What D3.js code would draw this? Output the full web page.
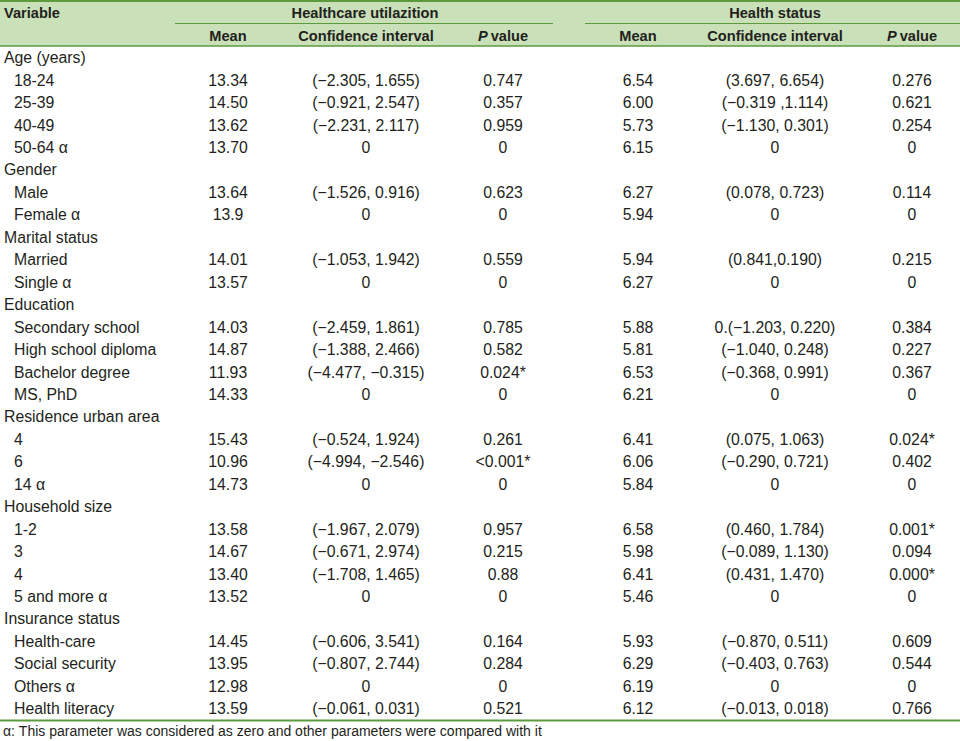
<!DOCTYPE html>
<html>
<head>
<meta charset="utf-8">
<script src="https://cdn.jsdelivr.net/npm/d3@7"></script>
<style>
  body { margin: 0; background: #fff; }
  svg { display: block; }
  text { font-family: "Liberation Sans", Arial, sans-serif; fill: #231f20; }
  .head { font-weight: bold; font-size: 14.6px; }
  .cell { font-size: 15.8px; }
  .note { font-size: 14px; }
</style>
</head>
<body>
<svg id="table" width="960" height="741"></svg>
<script>
// row labels (indent = 1 for sub rows, 0 for group heading)
const labels = [
  ['Age (years)', 0], ['18-24', 1], ['25-39', 1], ['40-49', 1], ['50-64 α', 1],
  ['Gender', 0], ['Male', 1], ['Female α', 1],
  ['Marital status', 0], ['Married', 1], ['Single α', 1],
  ['Education', 0], ['Secondary school', 1], ['High school diploma', 1], ['Bachelor degree', 1], ['MS, PhD', 1],
  ['Residence urban area', 0], ['4', 1], ['6', 1], ['14 α', 1],
  ['Household size', 0], ['1-2', 1], ['3', 1], ['4', 1], ['5 and more α', 1],
  ['Insurance status', 0], ['Health-care', 1], ['Social security', 1], ['Others α', 1], ['Health literacy', 1]
];

// healthcare utilization
const useMean = ['', '13.34', '14.50', '13.62', '13.70', '', '13.64', '13.9', '', '14.01', '13.57',
  '', '14.03', '14.87', '11.93', '14.33', '', '15.43', '10.96', '14.73',
  '', '13.58', '14.67', '13.40', '13.52', '', '14.45', '13.95', '12.98', '13.59'];
const useCI = ['', '(−2.305, 1.655)', '(−0.921, 2.547)', '(−2.231, 2.117)', '0', '', '(−1.526, 0.916)', '0', '', '(−1.053, 1.942)', '0',
  '', '(−2.459, 1.861)', '(−1.388, 2.466)', '(−4.477, −0.315)', '0', '', '(−0.524, 1.924)', '(−4.994, −2.546)', '0',
  '', '(−1.967, 2.079)', '(−0.671, 2.974)', '(−1.708, 1.465)', '0', '', '(−0.606, 3.541)', '(−0.807, 2.744)', '0', '(−0.061, 0.031)'];
const useP = ['', '0.747', '0.357', '0.959', '0', '', '0.623', '0', '', '0.559', '0',
  '', '0.785', '0.582', '0.024*', '0', '', '0.261', '<0.001*', '0',
  '', '0.957', '0.215', '0.88', '0', '', '0.164', '0.284', '0', '0.521'];

// health status
const hsMean = ['', '6.54', '6.00', '5.73', '6.15', '', '6.27', '5.94', '', '5.94', '6.27',
  '', '5.88', '5.81', '6.53', '6.21', '', '6.41', '6.06', '5.84',
  '', '6.58', '5.98', '6.41', '5.46', '', '5.93', '6.29', '6.19', '6.12'];
const hsCI = ['', '(3.697, 6.654)', '(−0.319 ,1.114)', '(−1.130, 0.301)', '0', '', '(0.078, 0.723)', '0', '', '(0.841,0.190)', '0',
  '', '0.(−1.203, 0.220)', '(−1.040, 0.248)', '(−0.368, 0.991)', '0', '', '(0.075, 1.063)', '(−0.290, 0.721)', '0',
  '', '(0.460, 1.784)', '(−0.089, 1.130)', '(0.431, 1.470)', '0', '', '(−0.870, 0.511)', '(−0.403, 0.763)', '0', '(−0.013, 0.018)'];
const hsP = ['', '0.276', '0.621', '0.254', '0', '', '0.114', '0', '', '0.215', '0',
  '', '0.384', '0.227', '0.367', '0', '', '0.024*', '0.402', '0',
  '', '0.001*', '0.094', '0.000*', '0', '', '0.609', '0.544', '0', '0.766'];

const groups = ['Healthcare utilazition', 'Health status'];
const colHeads = ['Mean', 'Confidence interval', 'P value', 'Mean', 'Confidence interval', 'P value'];
const note = 'α: This parameter was considered as zero and other parameters were compared with it';

const columns = [useMean, useCI, useP, hsMean, hsCI, hsP];

const green = '#5b9b3e';
const headBg = '#c9e0b8';
const svg = d3.select('#table');

// row scale for body rows
const y = d3.scaleBand()
  .domain(d3.range(labels.length))
  .range([46.5, 720]);

// column centres
const x = d3.scaleOrdinal()
  .domain(d3.range(6))
  .range([228, 366, 503, 638, 775, 912]);

const groupX = d3.scaleOrdinal().domain([0, 1]).range([365, 775]);
const groupSpan = [[175, 553], [585, 960]];

// header background
svg.append('rect').attr('x', 0).attr('y', 0).attr('width', 960).attr('height', 46)
  .attr('fill', headBg);

// header rules
svg.append('line').attr('x1', 0).attr('x2', 960).attr('y1', 1).attr('y2', 1)
  .attr('stroke', green).attr('stroke-width', 2);
svg.append('line').attr('x1', 0).attr('x2', 960).attr('y1', 46).attr('y2', 46)
  .attr('stroke', green).attr('stroke-width', 1.5);
svg.selectAll('.span-line').data(groupSpan).join('line')
  .attr('x1', d => d[0]).attr('x2', d => d[1]).attr('y1', 23.5).attr('y2', 23.5)
  .attr('stroke', green).attr('stroke-width', 1.2);

// header text
svg.append('text').attr('class', 'head').attr('x', 4).attr('y', 18).text('Variable');
svg.selectAll('.group').data(groups).join('text')
  .attr('class', 'head').attr('text-anchor', 'middle')
  .attr('x', (d, i) => groupX(i)).attr('y', 18).text(d => d);
const ch = svg.selectAll('.colhead').data(colHeads).join('text')
  .attr('class', 'head').attr('text-anchor', 'middle')
  .attr('x', (d, i) => x(i)).attr('y', 41);
ch.each(function(d) {
  const t = d3.select(this);
  if (d === 'P value') {
    t.append('tspan').attr('font-style', 'italic').text('P');
    t.append('tspan').attr('dx', 3).text('value');
  } else {
    t.text(d);
  }
});

// body rows
const rowY = i => y(i) + y.bandwidth() / 2 + 5.5;

svg.selectAll('.label').data(labels).join('text')
  .attr('class', 'cell')
  .attr('x', d => d[1] ? 14 : 4)
  .attr('y', (d, i) => rowY(i))
  .text(d => d[0]);

columns.forEach((col, c) => {
  svg.selectAll('.col' + c).data(col).join('text')
    .attr('class', 'cell').attr('text-anchor', 'middle')
    .attr('x', x(c))
    .attr('y', (d, i) => rowY(i))
    .text(d => d);
});

// bottom rule and footnote
svg.append('line').attr('x1', 0).attr('x2', 960).attr('y1', 720.5).attr('y2', 720.5)
  .attr('stroke', green).attr('stroke-width', 2);
svg.append('text').attr('class', 'note').attr('x', 3).attr('y', 736).text(note);
</script>
</body>
</html>
